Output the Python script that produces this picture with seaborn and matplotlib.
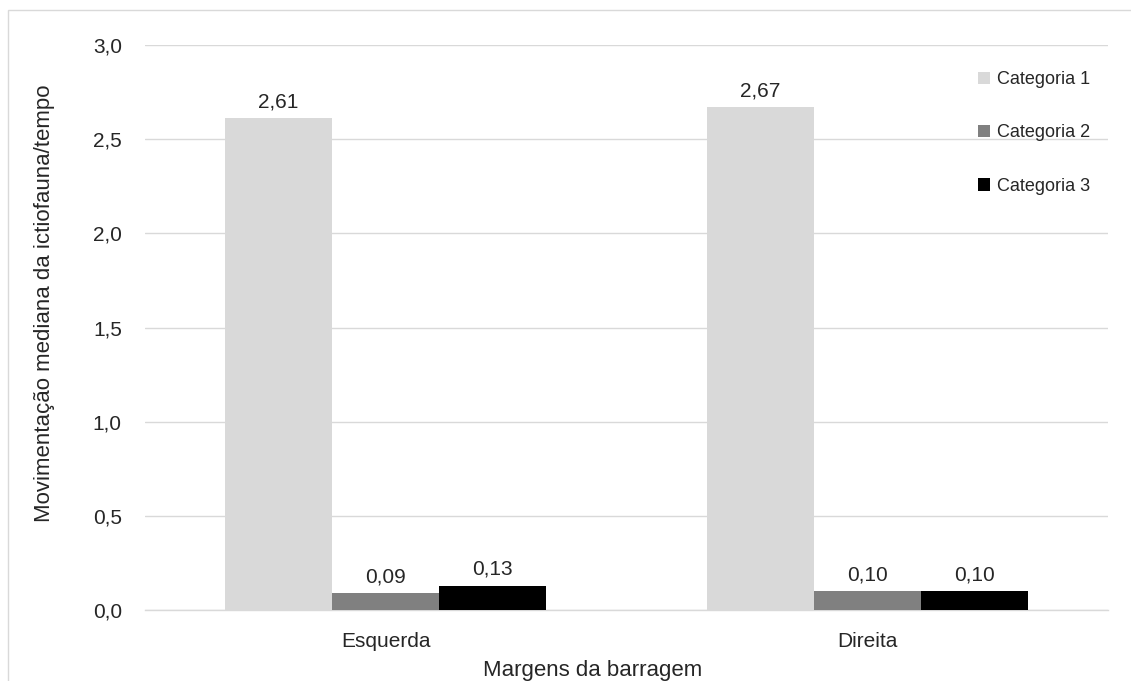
import pandas as pd
import matplotlib.pyplot as plt
import seaborn as sns
from matplotlib.patches import Rectangle

margens = ['Esquerda', 'Direita']
categorias = ['Categoria 1', 'Categoria 2', 'Categoria 3']
cat1 = [2.61, 2.67]
cat2 = [0.09, 0.10]
cat3 = [0.13, 0.10]
cores = ['#d9d9d9', '#808080', '#000000']

df = pd.DataFrame({
    'Margem': margens * 3,
    'Categoria': [categorias[0]] * 2 + [categorias[1]] * 2 + [categorias[2]] * 2,
    'Valor': cat1 + cat2 + cat3,
})

sns.set_theme(style='white')
plt.rcParams['font.family'] = ['Liberation Sans', 'DejaVu Sans']

fig = plt.figure(figsize=(11.31, 6.81), dpi=100)
ax = fig.add_axes([0.128, 0.104, 0.852, 0.830])

sns.barplot(data=df, x='Margem', y='Valor', hue='Categoria', palette=cores,
            width=0.667, gap=0, ax=ax, zorder=3, linewidth=0)

# rotulos com virgula decimal
for cont in ax.containers:
    labels = [f'{b.get_height():.2f}'.replace('.', ',') for b in cont]
    ax.bar_label(cont, labels=labels, padding=5, fontsize=15, color='#262626')

ax.set_xlim(-0.5, 1.5)
ax.set_ylim(0, 3.0)
yt = [0, 0.5, 1.0, 1.5, 2.0, 2.5, 3.0]
ax.set_yticks(yt)
ax.set_yticklabels([f'{v:.1f}'.replace('.', ',') for v in yt])
ax.yaxis.grid(True, color='#d9d9d9', linewidth=1, zorder=0)
ax.tick_params(axis='both', labelsize=15, colors='#262626', length=0)
ax.tick_params(axis='y', pad=16.5)
ax.tick_params(axis='x', pad=15.5)

for s in ['top', 'right', 'left']:
    ax.spines[s].set_visible(False)
ax.spines['bottom'].set_color('#d9d9d9')
ax.spines['bottom'].set_linewidth(1)

ax.set_xlabel('Margens da barragem', fontsize=16, color='#262626')
ax.set_ylabel('Movimentação mediana da ictiofauna/tempo', fontsize=16, color='#262626')
ax.xaxis.set_label_coords(0.465, -0.088)
ax.yaxis.set_label_coords(-0.093, 0.543)

leg = ax.legend(loc='upper left', bbox_to_anchor=(0.857, 0.966), frameon=False,
                fontsize=13, handlelength=0.7, handleheight=0.7, handletextpad=0.35,
                labelspacing=2.0, borderaxespad=0)
for t in leg.get_texts():
    t.set_color('#262626')

fig.patches.append(Rectangle((8 / 1131, -0.05), 1.2, 1 - 10 / 681 + 0.05,
                             transform=fig.transFigure, fill=False,
                             edgecolor='#d9d9d9', linewidth=1))

fig.savefig('out.png', dpi=100)
